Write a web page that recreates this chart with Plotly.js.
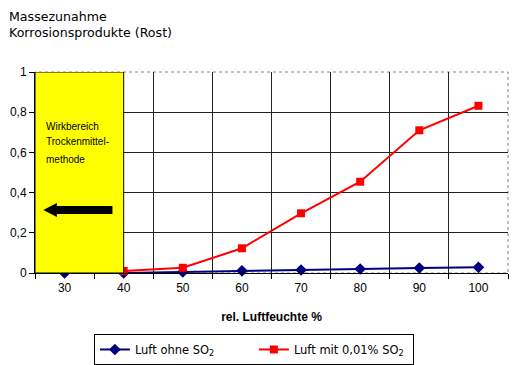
<!DOCTYPE html>
<html><head><meta charset="utf-8">
<script src="https://cdn.plot.ly/plotly-3.0.1.min.js"></script>
<style>body{margin:0;background:#fff}#c{width:513px;height:365px}</style>
</head><body><div id="c"></div>
<script>
const humidity = [30, 40, 50, 60, 70, 80, 90, 100];
const ohneSO2 = [0, 0, 0.005, 0.011, 0.015, 0.02, 0.025, 0.028];
const mitSO2 = [null, 0.01, 0.026, 0.123, 0.297, 0.454, 0.71, 0.832];
const yTicks = [0, 0.2, 0.4, 0.6, 0.8, 1];

const traces = [
  {x: humidity, y: ohneSO2, name: 'Luft ohne SO<sub>2</sub>', mode: 'lines+markers',
   line: {color: '#000080', width: 2}, marker: {symbol: 'diamond', size: 9, color: '#000080'}, cliponaxis: false},
  {x: humidity, y: mitSO2, name: 'Luft mit 0,01% SO<sub>2</sub>', mode: 'lines+markers',
   line: {color: '#FF0000', width: 2}, marker: {symbol: 'square', size: 8, color: '#FF0000'}, cliponaxis: false}
];

const layout = {
  width: 513, height: 365,
  margin: {l: 35, r: 5, t: 72, b: 92, autoexpand: false},
  paper_bgcolor: '#fff', plot_bgcolor: '#fff',
  separators: ',.',
  font: {family: 'Arial, Liberation Sans, sans-serif', size: 12, color: '#000'},
  showlegend: true,
  legend: {orientation: 'h', xref: 'container', yref: 'container', x: 0.183, xanchor: 'left', y: 0.085, yanchor: 'top',
    bordercolor: '#000', borderwidth: 1, font: {family: 'DejaVu Sans, sans-serif', size: 11.5},
    itemwidth: 30, tracegroupgap: 0, entrywidth: 114, entrywidthmode: 'pixels'},
  xaxis: {range: [25, 105], tickvals: humidity, ticks: '', showgrid: false, zeroline: false,
    showline: true, linecolor: '#000', linewidth: 1, ticklabelstandoff: 4,
    minor: {tick0: 25, dtick: 10, ticks: 'outside', ticklen: 5, tickcolor: '#000', showgrid: true, gridcolor: '#222', gridwidth: 1},
    title: {text: 'rel. Luftfeuchte %', font: {family: 'Arial, sans-serif', size: 12, weight: 'bold'}, standoff: 18}},
  yaxis: {range: [0, 1], tickvals: yTicks, tickformat: '.1~f', ticks: 'outside', ticklen: 5, tickcolor: '#000',
    showgrid: true, gridcolor: '#222', gridwidth: 1, zeroline: false, showline: true, linecolor: '#000', linewidth: 1},
  shapes: [
    {type: 'rect', xref: 'paper', yref: 'paper', x0: 0, x1: 1, y0: 0, y1: 1, line: {color: '#888', width: 1, dash: 'dot'}, layer: 'below'},
    {type: 'rect', xref: 'x', yref: 'y', x0: 25, x1: 40, y0: 0, y1: 1, fillcolor: '#FFFF00', line: {color: '#000', width: 1}, layer: 'above'},
    {type: 'path', xref: 'x', yref: 'y', layer: 'above', fillcolor: '#000', line: {color: '#000', width: 0},
     path: 'M 26.4 0.313 L 28.7 0.348 L 28.7 0.333 L 38.1 0.333 L 38.1 0.294 L 28.7 0.294 L 28.7 0.279 Z'}
  ],
  annotations: [
    {xref: 'paper', yref: 'paper', x: -0.06, y: 1.325, xanchor: 'left', yanchor: 'top', align: 'left', showarrow: false,
     text: 'Massezunahme<br>Korrosionsprodukte (Rost)', font: {family: 'DejaVu Sans, sans-serif', size: 12.6, color: '#000'}},
    {xref: 'x', yref: 'y', x: 26.6, y: 0.73, xanchor: 'left', yanchor: 'middle', showarrow: false,
     text: 'Wirkbereich', font: {family: 'Arial, sans-serif', size: 10, color: '#000'}},
    {xref: 'x', yref: 'y', x: 26.6, y: 0.655, xanchor: 'left', yanchor: 'middle', showarrow: false,
     text: 'Trockenmittel-', font: {family: 'Arial, sans-serif', size: 10, color: '#000'}},
    {xref: 'x', yref: 'y', x: 26.6, y: 0.565, xanchor: 'left', yanchor: 'middle', showarrow: false,
     text: 'methode', font: {family: 'Arial, sans-serif', size: 10, color: '#000'}}
  ]
};
Plotly.newPlot('c', traces, layout, {displayModeBar: false, staticPlot: true});
</script></body></html>
